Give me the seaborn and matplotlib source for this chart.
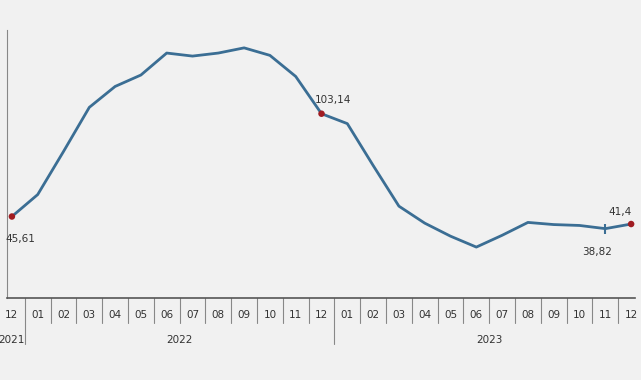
import matplotlib
matplotlib.use('Agg')
import matplotlib.pyplot as plt
import seaborn as sns
import pandas as pd

# monthly values, 12/2021 .. 12/2023
months = ['12', '01', '02', '03', '04', '05', '06', '07', '08', '09', '10', '11', '12',
          '01', '02', '03', '04', '05', '06', '07', '08', '09', '10', '11', '12']
years = ['2021', '2022', '2023']
year_span = [(0, 0), (1, 12), (13, 24)]
values = [45.61, 57.9, 82.0, 106.7, 118.4, 124.8, 137.1, 135.4, 137.1, 140.0, 135.8, 124.0,
          103.14, 97.6, 74.2, 51.4, 41.9, 34.6, 28.5, 35.1, 42.3, 41.1, 40.6, 38.82, 41.4]
labelled = {0: '45,61', 12: '103,14', 23: '38,82', 24: '41,4'}
red_points = [0, 12, 24]

df = pd.DataFrame({'pos': range(len(values)), 'value': values})

sns.set_style('white')
plt.rcParams['font.family'] = ['DejaVu Sans']

bg = '#f1f1f1'
fig = plt.figure(figsize=(6.41, 3.80), dpi=100, facecolor=bg)
W, H = 641, 380
ax = fig.add_axes([7 / W, 1 - 298 / H, 628 / W, 268 / H], facecolor=bg)

sns.lineplot(data=df, x='pos', y='value', ax=ax, color='#3b6e94', linewidth=2.0)

red = df.iloc[red_points]
sns.scatterplot(data=red, x='pos', y='value', ax=ax, color='#a01c22', s=22,
                edgecolor='none', zorder=5)
ax.plot(23, values[23], marker='|', color='#3b6e94', markersize=7, mew=1.5)

offsets = {0: (6, -16), 12: (8, 10), 23: (-6, -17), 24: (-8, 9)}
for i, txt in labelled.items():
    dx, dy = offsets[i]
    ax.annotate(txt, (i, values[i]), xytext=(dx, dy), textcoords='offset points',
                fontsize=7.5, color='#333333', ha='center', va='center')

ax.set_xlim(-0.19, 24.15)
ax.set_ylim(0, 150)
ax.set_yticks([0, 50, 100, 150])
ax.set_yticklabels([])
ax.tick_params(axis='y', length=3, color='#777777', width=0.8)
ax.set_xticks(range(len(months)))
ax.set_xticklabels(months, fontsize=7.5, color='#333333')
ax.tick_params(axis='x', length=0, pad=9)
ax.set_xlabel('')
ax.set_ylabel('')

for s in ['top', 'right']:
    ax.spines[s].set_visible(False)
ax.spines['left'].set_color('#888888')
ax.spines['left'].set_linewidth(0.8)
ax.spines['bottom'].set_color('#555555')
ax.spines['bottom'].set_linewidth(1.2)

tr = ax.get_xaxis_transform()
for i in range(len(months) - 1):
    x = i + 0.5
    low = -0.17 if i in (0, 12) else -0.095
    ax.plot([x, x], [0, low], transform=tr, color='#888888', lw=0.8, clip_on=False)

for name, (a, b) in zip(years, year_span):
    ax.text((a + b) / 2, -0.155, name, transform=tr, fontsize=7.5,
            color='#333333', ha='center', va='center')

fig.savefig('out.png', dpi=100, facecolor=bg)
